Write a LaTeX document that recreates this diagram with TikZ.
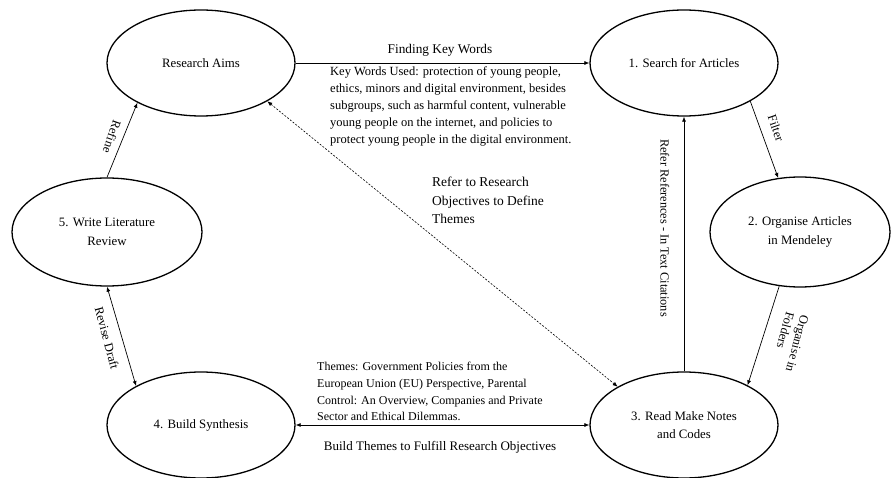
\documentclass[tikz,border=0pt]{standalone}
\usepackage{fontspec}
\setmainfont{Liberation Serif}
\usetikzlibrary{shapes.geometric,arrows.meta}
\begin{document}
\begin{tikzpicture}[x=1pt,y=-1pt,
  stage/.style={ellipse,draw,line width=1.3pt,minimum width=188pt,minimum height=106pt,inner sep=0pt,align=center,font=\fontsize{12.8}{18.5}\selectfont},
  conn/.style={line width=0.7pt,-{Latex[length=5pt,width=4pt]}},
  bconn/.style={line width=0.7pt,{Latex[length=5pt,width=4pt]}-{Latex[length=5pt,width=4pt]}},
  lbl/.style={inner sep=0pt,font=\fontsize{12.5}{17}\selectfont},
  blk/.style={inner sep=0pt,align=left,anchor=north west,font=\fontsize{12.5}{16.8}\selectfont}]
\useasboundingbox (0,0) rectangle (891,478);
\node[stage] (ra) at (201,63) {Research Aims};
\node[stage] (s1) at (684,63) {1. Search for Articles};
\node[stage,minimum width=180pt,minimum height=110pt] (s2) at (800,232) {2. Organise Articles\\in Mendeley};
\node[stage] (s3) at (684,425) {3. Read Make Notes\\and Codes};
\node[stage] (s4) at (201,425) {4. Build Synthesis};
\node[stage,minimum width=190pt,minimum height=108pt] (s5) at (107,232) {5. Write Literature\\Review};

\draw[conn] (ra.east) -- (s1.west);
\draw[conn] (s1.-30.5) -- (s2.112);
\draw[conn] (s2.-111) -- (s3.32);
\draw[conn] (s3.north) -- (s1.south);
\draw[bconn] (s4.east) -- (s3.west);
\draw[bconn] (s5.south) -- (s4.149.5);
\draw[conn] (s5.north) -- (ra.-148);
\draw[bconn,dashed,dash pattern=on 2pt off 1.5pt,line width=0.6pt] (ra.-30) -- (s3.150);

\node[lbl,font=\fontsize{13.3}{17}\selectfont] (l1) at (440,50) {Finding Key Words};
\node[blk] (l2) at (330,67) {Key Words Used: protection of young people,\\ethics, minors and digital environment, besides\\subgroups, such as harmful content, vulnerable\\young people on the internet, and policies to\\protect young people in the digital environment.};
\node[lbl,rotate=-71] (l3) at (776,128) {Filter};
\node[lbl,rotate=-105,align=left,font=\fontsize{12.5}{15}\selectfont] (l4) at (790,342) {Organise in\\Folders};
\node[lbl,rotate=-90,font=\fontsize{12.3}{17}\selectfont] (l5) at (665,228) {Refer References - In Text Citations};
\node[blk,font=\fontsize{13.5}{18.5}\selectfont] (l6) at (432,177) {Refer to Research\\Objectives to Define\\Themes};
\node[blk,font=\fontsize{12}{16.7}\selectfont] (l7) at (317,362) {Themes: Government Policies from the\\European Union (EU) Perspective, Parental\\Control: An Overview, Companies and Private\\Sector and Ethical Dilemmas.};
\node[lbl,font=\fontsize{13}{17}\selectfont] (l8) at (440,447) {Build Themes to Fulfill Research Objectives};
\node[lbl,rotate=-109] (l9) at (112,137) {Refine};
\node[lbl,rotate=-75] (l10) at (107,338) {Revise Draft};
\end{tikzpicture}
\end{document}
